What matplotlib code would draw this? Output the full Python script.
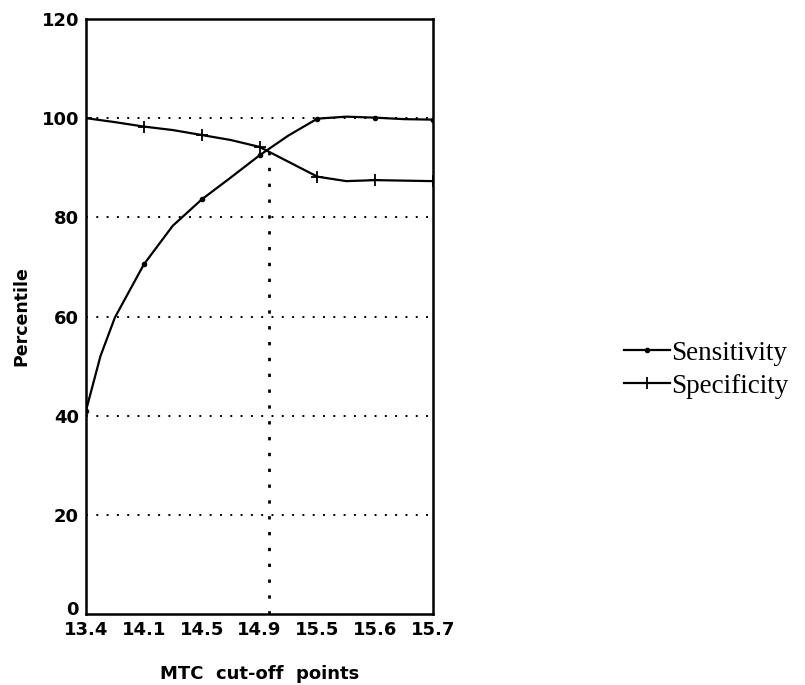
import numpy as np
import matplotlib
matplotlib.use('Agg')
import matplotlib.pyplot as plt
import matplotlib.transforms as mtransforms

# MTC cut-off points (categorical x axis)
cutoffs = ['13.4', '14.1', '14.5', '14.9', '15.5', '15.6', '15.7']

# curve readings (x in cut-off index units)
# an extra reading at 0.25 for the steep start of sensitivity
x_pos = [0, 0.25, 0.5, 1, 1.5, 2, 2.5, 3, 3.5, 4, 4.5, 5, 5.5, 6]
sensitivity = [41, 52.0, 59.8, 70.5, 78.3, 83.6, 88.0, 92.5, 96.5, 99.9, 100.3, 100.1, 99.8, 99.7]
specificity = [100, 99.6, 99.2, 98.3, 97.6, 96.6, 95.6, 94.2, 91.2, 88.2, 87.3, 87.5, 87.4, 87.3]
# indices of the real cut-off points (where markers go)
mark_idx = [0, 3, 5, 7, 9, 11, 13]

# where the two curves cross (dotted drop line)
cross_x = 3.16
cross_y = 93.4

yticks = [0, 20, 40, 60, 80, 100, 120]

fig = plt.figure(figsize=(8.05, 6.85), dpi=100)
ax = fig.add_axes([0.1068, 0.1036, 0.4312, 0.8687])

# curves, markers only at the real cut-off points
ax.plot(x_pos, sensitivity, color='black', lw=1.6, marker='o', ms=3,
        markevery=mark_idx, label='Sensitivity')
ax.plot(x_pos, specificity, color='black', lw=1.6, marker='+', ms=9, mew=1.3,
        markevery=mark_idx, label='Specificity')

# drop line from the crossing point
ax.plot([cross_x, cross_x], [0, cross_y], color='black', lw=2,
        linestyle=(0, (1.2, 4.5)))

# dotted horizontal grid
for yv in yticks[1:-1]:
    ax.axhline(yv, color='black', lw=1.4, linestyle=(0, (1, 4.3)), zorder=0)

ax.set_xlim(0, 6)
ax.set_ylim(0, 120)
ax.set_xticks(range(len(cutoffs)))
ax.set_xticklabels(cutoffs)
ax.set_yticks(yticks)
ax.tick_params(length=0, labelsize=13, pad=5)
for lab in ax.get_xticklabels() + ax.get_yticklabels():
    lab.set_fontweight('bold')

# lift the "0" a little so it clears the 13.4 label
zero_lab = ax.get_yticklabels()[0]
zero_lab.set_transform(zero_lab.get_transform() +
                       mtransforms.ScaledTranslation(0, 4 / 72, fig.dpi_scale_trans))

for sp in ax.spines.values():
    sp.set_linewidth(1.8)

ax.set_xlabel('MTC  cut-off  points', fontsize=13, fontweight='bold', labelpad=19)
ax.set_ylabel('Percentile', fontsize=12.5, fontweight='bold', labelpad=8)

# legend on the right, serif like the original
fig.legend(loc='center left', bbox_to_anchor=(0.745, 0.46), frameon=False,
           numpoints=1, handlelength=1.7, handletextpad=0.05, labelspacing=0.3,
           prop={'family': 'Liberation Serif', 'size': 19.5})

fig.savefig('out.png', dpi=100)
